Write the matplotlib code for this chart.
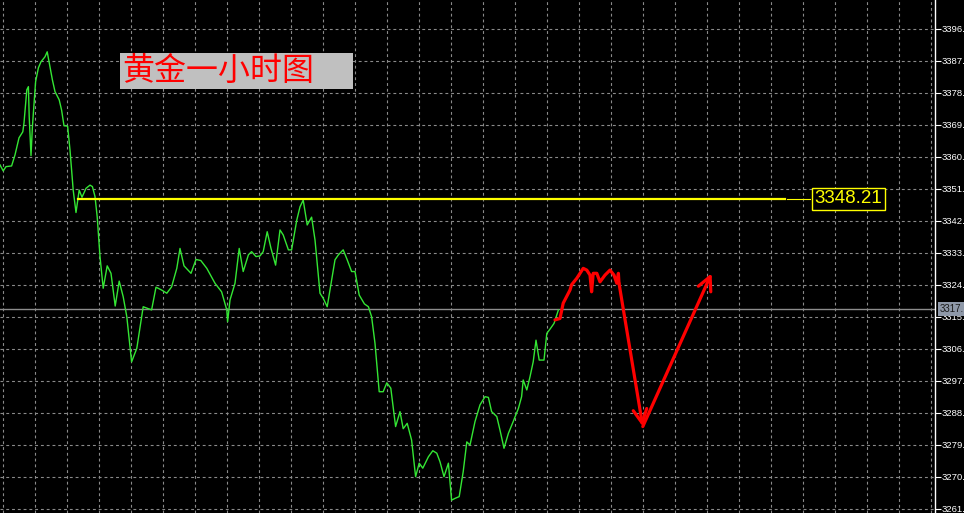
import matplotlib
matplotlib.use("Agg")
import matplotlib.pyplot as plt
from matplotlib.patches import Rectangle
import numpy as np

# ---- data (hour bars, prices) ----
green_t = [0, 0.8, 1.5, 2.9, 3.75, 4.75, 5.7, 6, 6.7, 7.1, 7.3, 7.75, 8.1, 8.9, 9.6, 10.25,
           11.25, 11.8, 12.5, 13.1, 13.75, 14.8, 15.4, 16, 16.9, 17.5, 17.9, 18.3, 19, 19.8,
           20.5, 21.5, 22.5, 23.1, 23.75, 24.3, 25, 25.8, 26.8, 27.75, 28.8, 29.8, 30.8, 31.7,
           32.9, 34.2, 35.8, 37.9, 39, 40.4, 41.7, 42.9, 44.2, 45, 46, 47.75, 49, 50.2, 51.7,
           53.75, 55.4, 56.7, 56.9, 57.5, 58.75, 59.8, 60.8, 62.1, 62.9, 64, 65, 65.8, 66.8,
           67.75, 68.9, 70, 70.8, 72.1, 72.9, 74.2, 75, 75.8, 76.8, 77.9, 78.75, 80, 80.8,
           81.8, 82.9, 83.75, 84.6, 85.8, 86.8, 87.9, 88.75, 89.8, 91.1, 92.1, 92.9, 93.75,
           94.8, 95.8, 96.7, 97.7, 98.5, 98.9, 100, 100.8, 101.8, 102.9, 103.9, 104.8, 105.7,
           107.1, 108.2, 109.2, 110, 111, 112.1, 112.9, 113.75, 114.8, 115.8, 116.7, 117.5,
           118.75, 120, 121.25, 122.1, 122.9, 124.2, 125, 126, 127.1, 128.3, 129.6, 130.4,
           130.8, 131.7, 132.5, 133.3, 134, 134.8, 136, 136.7, 137.5, 138.5, 139.6]
green_p = [3357.7, 3356.0, 3357.2, 3357.4, 3360.5, 3365.3, 3367.0, 3369.5, 3378.8, 3379.7,
           3371.3, 3360.3, 3368.4, 3381.1, 3385.0, 3386.7, 3388.1, 3389.5, 3385.3, 3381.6,
           3378.3, 3376.0, 3373.1, 3368.7, 3368.6, 3361.9, 3356.3, 3350.6, 3344.3, 3350.6,
           3348.6, 3351.1, 3352.0, 3351.6, 3348.8, 3343.1, 3331.9, 3323.0, 3329.3, 3327.2,
           3318.0, 3325.0, 3320.6, 3315.0, 3302.3, 3306.1, 3317.8, 3316.9, 3323.3, 3322.5,
           3321.6, 3323.4, 3328.6, 3334.2, 3329.3, 3327.2, 3331.1, 3330.8, 3328.6, 3324.4,
           3322.0, 3316.9, 3313.6, 3319.7, 3324.4, 3334.2, 3327.7, 3332.4, 3333.3, 3331.9,
           3332.1, 3333.3, 3338.9, 3334.2, 3329.5, 3339.4, 3338.0, 3333.8, 3333.8, 3342.2,
           3345.9, 3347.8, 3340.8, 3343.0, 3336.6, 3321.6, 3320.2, 3317.8, 3325.3, 3331.0,
           3332.4, 3333.8, 3331.0, 3327.7, 3327.7, 3321.1, 3318.6, 3317.8, 3315.0, 3307.5,
           3293.9, 3293.9, 3296.4, 3294.9, 3287.8, 3284.1, 3288.3, 3283.5, 3285.0, 3280.3,
           3270.0, 3273.8, 3272.4, 3275.6, 3277.3, 3276.6, 3274.2, 3270.0, 3273.8, 3263.4,
           3263.9, 3264.4, 3271.4, 3279.8, 3278.9, 3285.5, 3290.2, 3292.5, 3292.3, 3288.3,
           3286.9, 3283.1, 3278.0, 3282.2, 3285.5, 3289.2, 3292.5, 3297.2, 3294.4, 3298.1,
           3302.3, 3308.4, 3302.8, 3302.8, 3310.3, 3311.5, 3313.1, 3316.9]

red_t = [138.75, 140, 140.8, 142.5, 142.9, 144.2, 145.8, 146.7, 147.5, 147.9, 148.3, 149.2,
         150, 151.25, 152.5, 153.5, 154.2, 154.6, 154.75]
red_p = [3314.1, 3314.5, 3318.8, 3322.5, 3324.0, 3325.8, 3328.6, 3328.1, 3326.7, 3322.0,
         3327.2, 3327.2, 3324.8, 3326.7, 3328.1, 3326.7, 3324.4, 3327.2, 3324.4]
arrow_low_t, arrow_low_p = 160.7, 3284.1
arrow_high_t, arrow_high_p = 177.9, 3327.2

level_price = 3348.21
level_start_t, level_end_t = 19.5, 196.25
current_price = 3317.1
tick_values = [3396, 3387, 3378, 3369, 3360, 3351, 3342, 3333, 3324, 3315, 3306,
               3297, 3288, 3279, 3270, 3261]
title = "黄金一小时图"

# ---- figure ----
W, H = 964, 513
fig = plt.figure(figsize=(W / 100, H / 100), dpi=100, facecolor="black")
ax = fig.add_axes([0, 0, 935 / W, 1])
ax.set_facecolor("black")
ax.set_xlim(0, 233.75)
ax.set_ylim(3259.79, 3404.07)

grid_kw = dict(color="#8a8a8a", lw=0.8, ls=(0, (2.6, 2.6)), zorder=1)
for v in tick_values:
    ax.axhline(v, **grid_kw)
for gx in np.arange(0.83, 233.75, 8):
    ax.axvline(gx, **grid_kw)

ax.axhline(current_price, color="#8c8c8c", lw=1.0, zorder=2)

ax.plot(green_t, green_p, color="#34e634", lw=1.0, zorder=3)

ax.plot([level_start_t, level_end_t], [level_price] * 2, color="#ffff00", lw=1.6, zorder=4)
ax.plot([level_end_t + 0.5, 202.6], [level_price] * 2, color="#ffff00", lw=0.8, zorder=4)
ax.text(203.6, level_price, f"{level_price:.2f}", color="#ffff00", fontsize=13.5,
        family="Liberation Sans", va="center", ha="left", zorder=6,
        bbox=dict(boxstyle="square,pad=0.13", fc="black", ec="#ffff00", lw=1.0))

ax.plot(red_t, red_p, color="#ff0000", lw=2.3, zorder=5, solid_capstyle="round",
        solid_joinstyle="round")
arrow_kw = dict(arrowstyle="->,head_length=0.7,head_width=0.35", color="#ff0000", lw=2.3,
                shrinkA=0, shrinkB=0, mutation_scale=14)
ax.annotate("", xy=(arrow_low_t, arrow_low_p), xytext=(red_t[-1], red_p[-1]),
            arrowprops=arrow_kw, zorder=5)
ax.annotate("", xy=(arrow_high_t, arrow_high_p), xytext=(arrow_low_t, arrow_low_p),
            arrowprops=arrow_kw, zorder=5)

# axis on the right
for s in ["left", "top", "bottom"]:
    ax.spines[s].set_visible(False)
ax.spines["right"].set_color("white")
ax.spines["right"].set_linewidth(1.0)
ax.set_xticks([])
ax.yaxis.tick_right()
ax.set_yticks(tick_values)
ax.set_yticklabels([f"{v}." for v in tick_values])
ax.tick_params(axis="y", colors="white", labelcolor="white", length=4, width=0.8,
               pad=0.6, labelsize=6.8)
for lab in ax.get_yticklabels():
    lab.set_family("Liberation Sans")

ax.annotate("3317.", xy=(1.0, current_price), xycoords=ax.get_yaxis_transform(),
            xytext=(3.6, 0), textcoords="offset points",
            fontsize=7, family="Liberation Sans", color="#1a1a1a", va="center", ha="left",
            zorder=10, annotation_clip=False,
            bbox=dict(boxstyle="square,pad=0.22", fc="#8e98a8", ec="none"))

# title box
fig.patches.append(Rectangle((120 / W, 1 - 89 / H), 233 / W, 36 / H, transform=fig.transFigure,
                             facecolor="#c0c0c0", edgecolor="none", zorder=5))
fig.text(122 / W, 1 - 71 / H, title, color="#ff0000", fontsize=23,
         family=["Noto Sans CJK SC", "DejaVu Sans"], va="center", ha="left", zorder=6)

fig.savefig("out.png", dpi=100, facecolor="black")
